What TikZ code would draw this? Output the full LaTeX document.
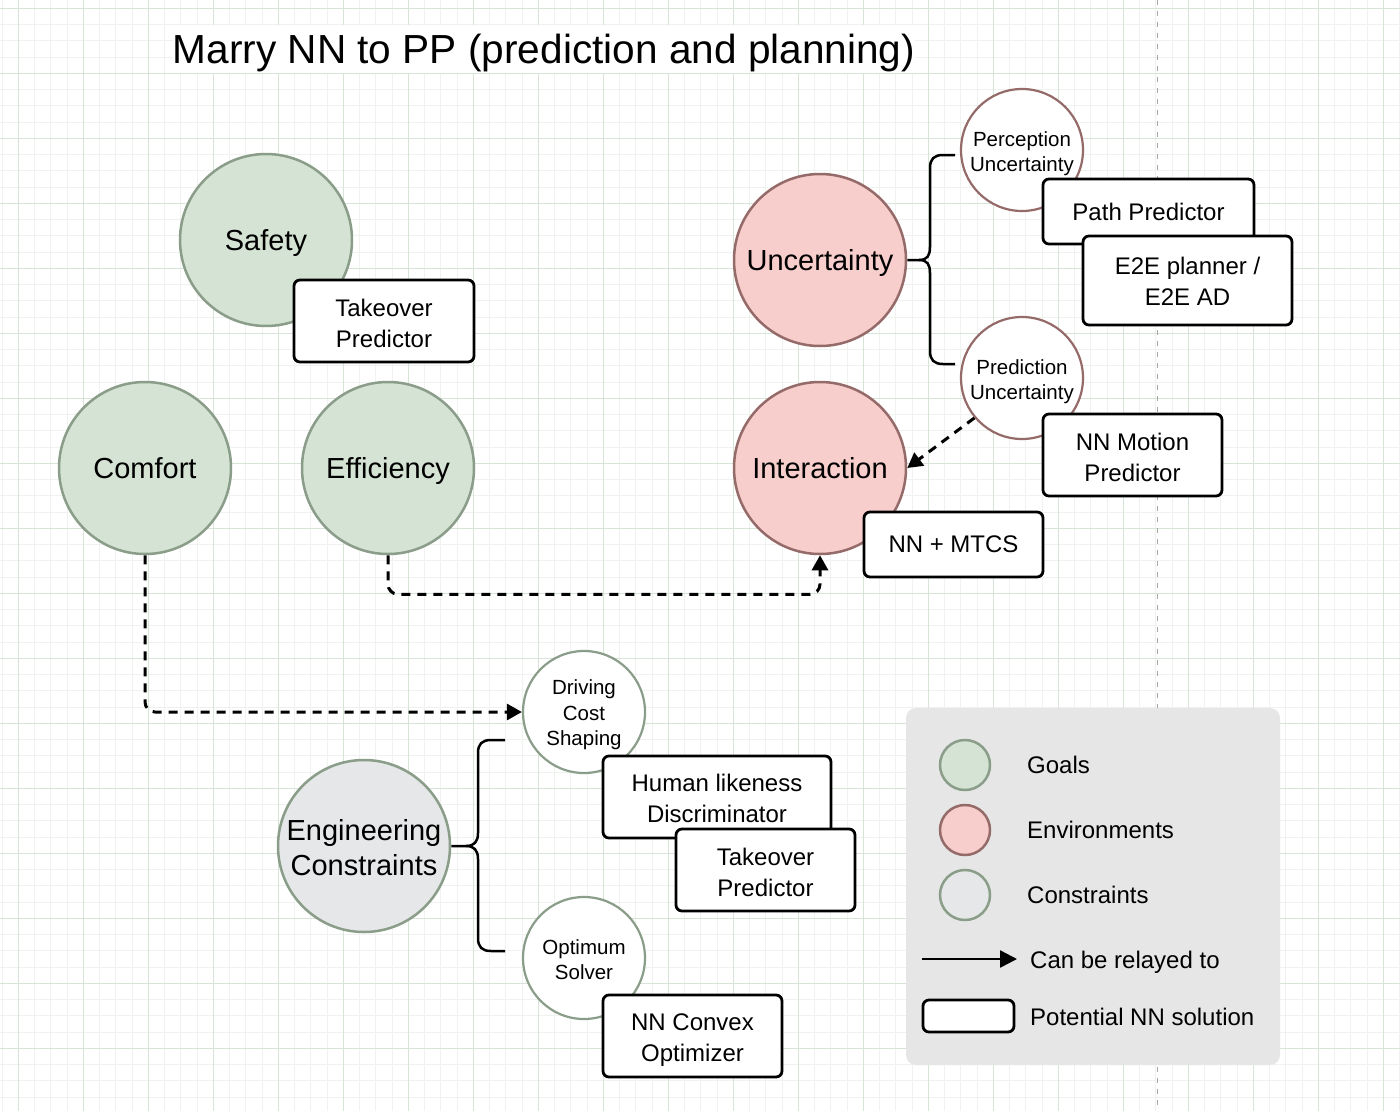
\documentclass[tikz,border=0pt]{standalone}
\usepackage{fontspec}
\setmainfont{Liberation Sans}
\usetikzlibrary{arrows.meta,calc}
\definecolor{goalfill}{HTML}{D5E3D4}
\definecolor{goalline}{HTML}{8A9D89}
\definecolor{envfill}{HTML}{F8CECC}
\definecolor{envline}{HTML}{946B69}
\definecolor{consfill}{HTML}{E6E7E8}
\definecolor{legbg}{HTML}{E6E6E6}
\definecolor{gridmaj}{HTML}{D8E4D8}
\definecolor{gridmin}{HTML}{EFF2EF}
\newcommand{\fsz}[2]{\fontsize{#1}{#2}\selectfont}
\newcommand{\tall}[1]{\rule{0pt}{#1}}
\tikzset{
  bigcirc/.style={circle, line width=2.5pt, minimum size=172pt, inner sep=0pt, font=\fsz{29}{35}, align=center},
  goalc/.style={bigcirc, draw=goalline, fill=goalfill},
  envc/.style={bigcirc, draw=envline, fill=envfill},
  consc/.style={bigcirc, draw=goalline, fill=consfill},
  oneline/.style={text depth=0pt},
  smallc/.style={circle, line width=2.2pt, minimum size=122pt, inner sep=0pt, fill=white, font=\fsz{20.5}{25.5}, align=center},
  subenv/.style={smallc, draw=envline},
  subcons/.style={smallc, draw=goalline},
  nnbox/.style={rectangle, rounded corners=6pt, draw=black, line width=2.8pt, fill=white, font=\fsz{24}{31}, align=center, inner sep=0pt},
  relay/.style={line width=3pt, dash pattern=on 9pt off 7pt, rounded corners=10pt, -{Triangle[length=15pt,width=16pt]}},
  bracepath/.style={line width=2.5pt, draw=black},
  legtext/.style={anchor=west, font=\fsz{24}{29}, inner sep=0pt, text depth=0pt},
}
\begin{document}
\begin{tikzpicture}[x=1pt,y=-1pt]
\useasboundingbox (0,0) rectangle (1400,1111);
\fill[white] (0,0) rectangle (1400,1111);
% grid
\foreach \i in {0,...,86} \draw[gridmin, line width=1pt] ({2.05+16.25*\i},0) -- ++(0,1111);
\foreach \j in {0,...,68} \draw[gridmin, line width=1pt] (0,{8.3+16.25*\j}) -- ++(1400,0);
\foreach \i in {0,...,21} \draw[gridmaj, line width=1.2pt] ({18.3+65*\i},0) -- ++(0,1111);
\foreach \j in {0,...,17} \draw[gridmaj, line width=1.2pt] (0,{8.3+65*\j}) -- ++(1400,0);
\draw[gray!70, line width=1pt, dash pattern=on 5pt off 6pt] (1157,0) -- (1157,1111);

% title
\node[fill=white, minimum width=742pt, minimum height=48pt, inner sep=0pt, text depth=0pt, font=\fsz{40.6}{48}] (title) at (544,49) {Marry NN to PP (prediction and planning)};

% goals
\node[goalc, oneline] (safety) at (266,240) {Safety};
\node[nnbox, minimum width=180pt, minimum height=82pt] (tk1) at (384,321) {\tall{23pt}Takeover\\Predictor};
\node[goalc, oneline] (comfort) at (145,468) {Comfort};
\node[goalc, oneline] (eff) at (388,468) {Efficiency};

% environments
\node[envc, oneline] (unc) at (820,260) {Uncertainty};
\node[envc, oneline] (inter) at (820,468) {Interaction};
\node[subenv] (percunc) at (1022,150) {\tall{22pt}Perception\\Uncertainty};
\node[nnbox, minimum width=211pt, minimum height=65pt] (pathp) at (1148.5,211.5) {Path Predictor};
\node[nnbox, minimum width=209pt, minimum height=89pt] (e2e) at (1187.5,280.5) {\tall{19pt}E2E planner /\\E2E AD};
\node[subenv] (predunc) at (1022,378) {\tall{22pt}Prediction\\Uncertainty};
\node[nnbox, minimum width=179pt, minimum height=82pt] (nnmp) at (1132.5,455) {\tall{22pt}NN Motion\\Predictor};
\node[nnbox, minimum width=179pt, minimum height=65pt] (mtcs) at (953.5,544.5) {NN + MTCS};

% uncertainty brace
\coordinate (ubt) at (955,155);
\coordinate (ubb) at (955,364);
\draw[bracepath] (unc.east) -- (919,260) .. controls (927,260) and (930,256) .. (930,247) -- (930,168) .. controls (930,159) and (934,155) .. (943,155) -- (ubt);
\draw[bracepath] (919,260) .. controls (927,260) and (930,264) .. (930,273) -- (930,351) .. controls (930,360) and (934,364) .. (943,364) -- (ubb);

% constraints
\node[consc] (eng) at (364,846) {\tall{23.5pt}Engineering\\Constraints};
\node[subcons] (dcs) at (584,712) {\tall{20.5pt}Driving\\Cost\\Shaping};
\node[nnbox, minimum width=228pt, minimum height=82pt] (hld) at (717,797) {\tall{20pt}Human likeness\\Discriminator};
\node[nnbox, minimum width=179pt, minimum height=82pt] (tk2) at (765.5,870) {\tall{22pt}Takeover\\Predictor};
\node[subcons] (opt) at (584,958) {\tall{18.5pt}Optimum\\Solver};
\node[nnbox, minimum width=179pt, minimum height=82pt] (nnco) at (692.5,1036) {\tall{25pt}NN Convex\\Optimizer};

% engineering brace
\coordinate (ebt) at (505,740);
\coordinate (ebb) at (505,951);
\draw[bracepath] (eng.east) -- (466,846) .. controls (474,846) and (478,842) .. (478,833) -- (478,753) .. controls (478,744) and (482,740) .. (491,740) -- (ebt);
\draw[bracepath] (466,846) .. controls (474,846) and (478,850) .. (478,859) -- (478,938) .. controls (478,947) and (482,951) .. (491,951) -- (ebb);

% relays
\draw[relay] (predunc.220) -- (inter.east);
\draw[relay] (eff.south) |- ($(inter.south)+(0,39)$) -- (inter.south);
\draw[relay] (comfort.south) |- (dcs.west);

% legend
\fill[legbg, rounded corners=10pt] (906,708) rectangle (1280,1065);
\node[goalc, minimum size=50pt] (lgoal) at (965,765) {};
\node[envc, minimum size=50pt] (lenv) at (965,830) {};
\node[consc, minimum size=50pt] (lcons) at (965,895) {};
\node[legtext] (tgoal) at (1027,765) {Goals};
\node[legtext] (tenv) at (1027,830) {Environments};
\node[legtext] (tcons) at (1027,895) {Constraints};
\coordinate (la1) at (922,959);
\coordinate (la2) at (1017,959);
\draw[line width=2.5pt, -{Triangle[length=17pt,width=17pt]}] (la1) -- (la2);
\node[legtext] (trelay) at (1030,960) {Can be relayed to};
\node[nnbox, minimum width=91pt, minimum height=32pt] (lbox) at (968.5,1016) {};
\node[legtext] (tnn) at (1030,1017) {Potential NN solution};
\end{tikzpicture}
\end{document}
